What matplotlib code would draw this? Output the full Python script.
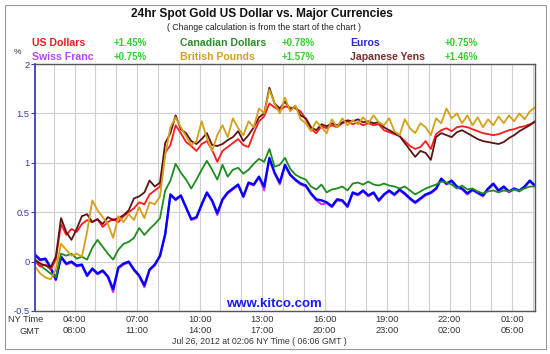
import numpy as np
import matplotlib
matplotlib.use('Agg')
import matplotlib.pyplot as plt
from matplotlib.patches import Rectangle

plt.rcParams['font.family'] = ['Liberation Sans', 'DejaVu Sans']

# hours since start of chart (02:06 NY time, Jul 25), read every 15 minutes
hours = np.arange(97) * 0.25

euros = [0.07, 0.02, 0.03, -0.06, -0.18, 0.05, -0.02, 0.0, -0.04, -0.03,
         -0.14, -0.07, -0.12, -0.09, -0.15, -0.28, -0.06, -0.02, 0.0, -0.08,
         -0.14, -0.24, -0.08, -0.03, 0.06, 0.28, 0.68, 0.63, 0.67, 0.55,
         0.43, 0.45, 0.58, 0.70, 0.62, 0.49, 0.63, 0.70, 0.74, 0.78,
         0.66, 0.80, 0.78, 0.86, 0.76, 1.05, 0.90, 0.80, 0.98, 0.88,
         0.83, 0.79, 0.77, 0.69, 0.63, 0.62, 0.60, 0.56, 0.63, 0.62,
         0.56, 0.70, 0.68, 0.72, 0.67, 0.70, 0.62, 0.68, 0.72, 0.68,
         0.73, 0.69, 0.64, 0.60, 0.64, 0.68, 0.70, 0.74, 0.84, 0.79,
         0.82, 0.76, 0.74, 0.69, 0.73, 0.70, 0.67, 0.74, 0.79, 0.72,
         0.76, 0.71, 0.74, 0.72, 0.76, 0.82, 0.77]

swiss = [0.06, 0.01, 0.02, -0.07, -0.19, 0.04, -0.03, -0.01, -0.05, -0.04,
         -0.15, -0.08, -0.13, -0.10, -0.16, -0.31, -0.07, -0.03, -0.01, -0.09,
         -0.15, -0.26, -0.09, -0.04, 0.05, 0.27, 0.67, 0.62, 0.66, 0.54,
         0.42, 0.44, 0.57, 0.69, 0.61, 0.47, 0.62, 0.69, 0.73, 0.77,
         0.65, 0.79, 0.77, 0.85, 0.72, 1.04, 0.89, 0.78, 0.97, 0.87,
         0.82, 0.78, 0.76, 0.68, 0.62, 0.58, 0.59, 0.55, 0.62, 0.61,
         0.55, 0.69, 0.67, 0.71, 0.66, 0.69, 0.61, 0.67, 0.71, 0.67,
         0.72, 0.68, 0.63, 0.59, 0.63, 0.67, 0.69, 0.73, 0.83, 0.78,
         0.81, 0.75, 0.73, 0.68, 0.72, 0.69, 0.66, 0.73, 0.78, 0.71,
         0.75, 0.70, 0.73, 0.71, 0.75, 0.81, 0.76]

canadian = [0.02, -0.04, -0.08, -0.12, -0.16, 0.08, 0.06, 0.08, 0.03, 0.05,
            0.02, 0.14, 0.22, 0.15, 0.08, 0.02, 0.12, 0.18, 0.20, 0.24,
            0.34, 0.27, 0.33, 0.38, 0.44, 0.72, 0.82, 0.99, 0.90, 0.83,
            0.74, 0.83, 0.93, 1.02, 0.93, 0.83, 0.98, 0.86, 0.93, 0.95,
            0.89, 0.93, 0.99, 1.04, 1.01, 1.14, 0.96, 0.98, 1.05, 0.94,
            0.88, 0.85, 0.83, 0.76, 0.73, 0.78, 0.70, 0.73, 0.74, 0.76,
            0.72, 0.79, 0.80, 0.78, 0.81, 0.78, 0.77, 0.79, 0.77, 0.76,
            0.74, 0.76, 0.72, 0.68, 0.71, 0.74, 0.76, 0.78, 0.81, 0.80,
            0.78, 0.74, 0.77, 0.73, 0.74, 0.71, 0.69, 0.71, 0.72, 0.70,
            0.72, 0.71, 0.73, 0.72, 0.74, 0.76, 0.76]

us_dollars = [0.0, -0.05, -0.03, -0.08, 0.02, 0.38, 0.27, 0.33, 0.30, 0.38,
              0.42, 0.40, 0.43, 0.35, 0.40, 0.43, 0.40, 0.46, 0.50, 0.54,
              0.60, 0.58, 0.68, 0.72, 0.76, 1.10, 1.18, 1.38, 1.30, 1.21,
              1.17, 1.12, 1.19, 1.22, 1.13, 1.01, 1.12, 1.16, 1.20, 1.24,
              1.18, 1.16, 1.30, 1.42, 1.47, 1.60, 1.56, 1.53, 1.57, 1.56,
              1.55, 1.52, 1.44, 1.34, 1.30, 1.37, 1.35, 1.38, 1.36, 1.40,
              1.42, 1.39, 1.41, 1.38, 1.40, 1.38, 1.39, 1.33, 1.31, 1.29,
              1.27, 1.22, 1.17, 1.14, 1.16, 1.22, 1.14, 1.29, 1.33, 1.35,
              1.32, 1.36, 1.37, 1.36, 1.34, 1.32, 1.30, 1.29, 1.28, 1.29,
              1.31, 1.33, 1.34, 1.36, 1.37, 1.39, 1.41]

japanese = [0.02, -0.02, -0.04, -0.06, 0.05, 0.44, 0.30, 0.22, 0.33, 0.46,
            0.48, 0.40, 0.43, 0.38, 0.45, 0.42, 0.44, 0.47, 0.52, 0.64,
            0.66, 0.70, 0.82, 0.76, 0.80, 1.20, 1.30, 1.48, 1.34, 1.30,
            1.22, 1.19, 1.24, 1.30, 1.18, 1.17, 1.19, 1.23, 1.26, 1.32,
            1.22, 1.28, 1.36, 1.46, 1.50, 1.76, 1.60, 1.55, 1.62, 1.54,
            1.57, 1.48, 1.45, 1.36, 1.33, 1.39, 1.37, 1.40, 1.38, 1.41,
            1.43, 1.42, 1.44, 1.41, 1.42, 1.40, 1.41, 1.36, 1.33, 1.30,
            1.27, 1.20, 1.13, 1.06, 1.12, 1.10, 1.03, 1.26, 1.30, 1.28,
            1.26, 1.31, 1.33, 1.30, 1.27, 1.24, 1.22, 1.21, 1.20, 1.19,
            1.21, 1.25, 1.28, 1.32, 1.35, 1.38, 1.42]

british = [-0.05, -0.12, -0.16, -0.18, -0.08, 0.18, 0.12, 0.06, 0.08, 0.05,
           0.30, 0.62, 0.52, 0.45, 0.38, 0.24, 0.46, 0.40, 0.48, 0.42,
           0.55, 0.44, 0.60, 0.58, 0.66, 1.08, 1.36, 1.46, 1.36, 1.27,
           1.18, 1.22, 1.42, 1.25, 1.12, 1.28, 1.38, 1.26, 1.45, 1.35,
           1.28, 1.42, 1.36, 1.55, 1.50, 1.74, 1.60, 1.50, 1.66, 1.52,
           1.58, 1.44, 1.40, 1.32, 1.42, 1.36, 1.30, 1.44, 1.36, 1.45,
           1.38, 1.43, 1.39, 1.46, 1.40, 1.48, 1.41, 1.38, 1.45, 1.32,
           1.28, 1.44, 1.35, 1.30, 1.40, 1.36, 1.28, 1.45, 1.40, 1.55,
           1.45, 1.50, 1.40, 1.48, 1.38, 1.46, 1.36, 1.44, 1.38, 1.47,
           1.40, 1.48, 1.42, 1.50, 1.44, 1.52, 1.56]

# x tick positions (hours since start) and labels
tick_hours = [1.9, 4.9, 7.9, 10.9, 13.9, 16.9, 19.9, 22.9]
ny_labels = ['04:00', '07:00', '10:00', '13:00', '16:00', '19:00', '22:00', '01:00']
gmt_labels = ['08:00', '11:00', '14:00', '17:00', '20:00', '23:00', '02:00', '05:00']
grid_hours = [0.9 + k for k in range(24)]

legend_rows = [
    [('US Dollars', '#e02020', '+1.45%'), ('Canadian Dollars', '#2e8b2e', '+0.78%'),
     ('Euros', '#2a2ad0', '+0.75%')],
    [('Swiss Franc', '#b447ff', '+0.75%'), ('British Pounds', '#d4a020', '+1.57%'),
     ('Japanese Yens', '#7a2e2e', '+1.46%')],
]

W, H = 550, 354
fig = plt.figure(figsize=(W / 100, H / 100), dpi=100)


def px(x, y):
    return x / W, 1 - y / H


fig.patches.append(Rectangle(px(4.5, 349), 541 / W, 344 / H, transform=fig.transFigure,
                             fill=False, edgecolor='#9a9a9a', lw=0.8))

ax = fig.add_axes([35 / W, 43 / H, 500 / W, 247 / H])

ax.plot(hours, swiss, color='#cc33ff', lw=1.4)
ax.plot(hours, euros, color='#0000ff', lw=1.7)
ax.plot(hours, canadian, color='#1e8c1e', lw=1.3)
ax.plot(hours, us_dollars, color='#ff1a1a', lw=1.3)
ax.plot(hours, japanese, color='#5c1414', lw=1.3)
ax.plot(hours, british, color='#d4a017', lw=1.3)

ax.set_xlim(0, 24)
ax.set_ylim(-0.5, 2)
ax.set_yticks([-0.5, 0, 0.5, 1, 1.5, 2])
ax.set_yticklabels(['-0.5', '0', '0.5', '1', '1.5', '2'])
ax.set_xticks(tick_hours)
ax.set_xticklabels([a + '\n' + b for a, b in zip(ny_labels, gmt_labels)])
ax.set_xticks(grid_hours, minor=True)
ax.grid(True, which='both', axis='x', color='#cfcfcf', lw=0.8)
ax.grid(True, axis='y', color='#cfcfcf', lw=0.8)
ax.set_axisbelow(True)
ax.tick_params(axis='x', which='both', length=0, labelsize=6.7, colors='#333333', pad=3)
ax.tick_params(axis='y', length=3, labelsize=6.7, colors='#3838b0', pad=1)
for s in ['top', 'right', 'bottom']:
    ax.spines[s].set_color('#555555')
    ax.spines[s].set_linewidth(1.0)
ax.spines['left'].set_color('#3030b0')
ax.spines['left'].set_linewidth(1.2)

fig.text(*px(262, 14), '24hr Spot Gold US Dollar vs. Major Currencies', ha='center',
         va='center', fontsize=8.6, fontweight='bold', color='#111111')
fig.text(*px(264, 28), '( Change calculation is from the start of the chart )',
         ha='center', va='center', fontsize=6.3, color='#222222')

col_x = [(32, 147), (180, 315), (350, 478)]
for r, row in enumerate(legend_rows):
    y = 43 + 14 * r
    for (name, color, pct), (xn, xp) in zip(row, col_x):
        fig.text(*px(xn, y), name, ha='left', va='center', fontsize=7.6,
                 fontweight='bold', color=color)
        fig.text(*px(xp, y), pct, ha='right', va='center', fontsize=7.0,
                 fontweight='bold', color='#33cc33')

fig.text(*px(17, 52), '%', ha='center', va='center', fontsize=6, color='#333333')
fig.text(*px(26, 320), 'NY Time', ha='center', va='center', fontsize=6.7, color='#333333')
fig.text(*px(30, 331), 'GMT', ha='center', va='center', fontsize=6.7, color='#333333')
fig.text(*px(274, 304), 'www.kitco.com', ha='center', va='center', fontsize=9.5,
         fontweight='bold', color='#1a1aff')
fig.text(*px(259, 341), 'Jul 26, 2012 at 02:06 NY Time ( 06:06 GMT )', ha='center',
         va='center', fontsize=6.3, color='#333333')

fig.savefig('out.png', dpi=100)
